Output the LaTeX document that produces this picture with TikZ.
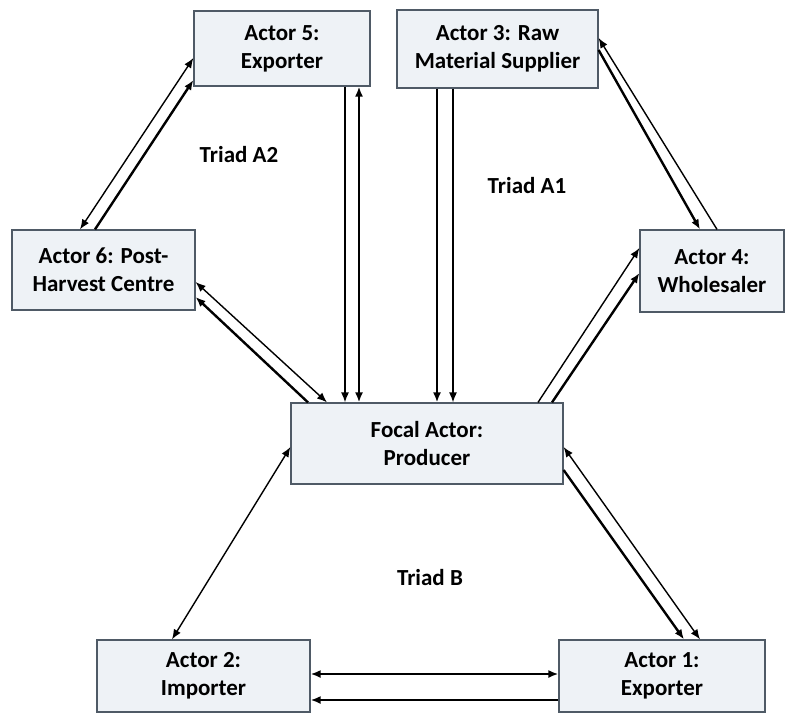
\documentclass[tikz,border=0pt]{standalone}
\usepackage{fontspec}
\setmainfont{Carlito}
\usepackage{xcolor}
\definecolor{actorFill}{HTML}{EEF2F6}
\definecolor{actorLine}{HTML}{4F5A66}
\usetikzlibrary{arrows.meta}

\begin{document}
\begin{tikzpicture}[x=0.5pt, y=-0.5pt,
  every node/.style={font=\bfseries\fontsize{11.5}{14}\selectfont, align=center},
  actor/.style={draw=actorLine, fill=actorFill, line width=0.6pt, inner sep=0pt},
  link/.style={line width=0.7pt},
  heavy/.style={line width=1.2pt},
  toarrow/.style={-{Latex[length=5pt,width=4pt]}},
  botharrow/.style={{Latex[length=5pt,width=4pt]}-{Latex[length=5pt,width=4pt]}}]
  \useasboundingbox (0,0) rectangle (802,712);
  % Actors
  \node[actor, minimum width=88pt, minimum height=37.5pt] (a5) at (282,48.5) {Actor 5:\\Exporter};
  \node[actor, minimum width=100.5pt, minimum height=39pt] (a3) at (497.5,49) {Actor 3: Raw\\Material Supplier};
  \node[actor, minimum width=91.5pt, minimum height=40pt] (a6) at (103.5,270) {Actor 6: Post-\\Harvest Centre};
  \node[actor, minimum width=72pt, minimum height=41pt] (a4) at (712,271) {Actor 4:\\Wholesaler};
  \node[actor, minimum width=136pt, minimum height=40.5pt] (f) at (427,443.5) {Focal Actor:\\Producer};
  \node[actor, minimum width=106.5pt, minimum height=36pt] (a2) at (203.5,676) {Actor 2:\\Importer};
  \node[actor, minimum width=103pt, minimum height=36pt] (a1) at (662,676) {Actor 1:\\Exporter};
  % Triads
  \node (ta2) at (239,155) {Triad A2};
  \node (ta1) at (527,186) {Triad A1};
  \node (tb) at (430,578) {Triad B};
  % Links to the focal actor
  \draw[link, toarrow] ([xshift=31.5pt]a5.south) -- ([xshift=-41pt]f.north);
  \draw[heavy, botharrow] ([xshift=38.5pt]a5.south) -- ([xshift=-34pt]f.north);
  \draw[heavy, toarrow] ([xshift=-30.25pt]a3.south) -- ([xshift=5pt]f.north);
  \draw[link, toarrow] ([xshift=-22.25pt]a3.south) -- ([xshift=13pt]f.north);
  \draw[link, botharrow] ([yshift=-6pt]a6.east) -- ([xshift=-50pt]f.north);
  \draw[heavy, toarrow] ([xshift=-59.5pt]f.north) -- ([yshift=-13.5pt]a6.east);
  \draw[link, toarrow] ([xshift=55.5pt]f.north) -- ([yshift=11.5pt]a4.west);
  \draw[heavy, toarrow] ([xshift=62.5pt]f.north) -- ([yshift=-1pt]a4.west);
  \draw[link, botharrow] ([yshift=-1.75pt]f.east) -- ([xshift=19pt]a1.north);
  \draw[heavy, toarrow] ([yshift=-13.25pt]f.east) -- ([xshift=11pt]a1.north);
  \draw[link, botharrow] ([yshift=-1.75pt]f.west) -- ([xshift=-15.75pt]a2.north);
  % Links between the other actors
  \draw[link, botharrow] ([yshift=-4.75pt]a5.west) -- ([xshift=-11.75pt]a6.north);
  \draw[heavy, toarrow] ([xshift=-4.25pt]a6.north) -- ([yshift=-15.75pt]a5.west);
  \draw[link, toarrow] ([xshift=2.5pt]a4.north) -- ([yshift=5.5pt]a3.east);
  \draw[heavy, toarrow] ([yshift=-0.5pt]a3.east) -- ([xshift=-6pt]a4.north);
  \draw[heavy, botharrow] ([yshift=1pt]a2.east) -- ([yshift=1pt]a1.west);
  \draw[heavy, toarrow] ([yshift=-12pt]a1.west) -- ([yshift=-12pt]a2.east);
\end{tikzpicture}
\end{document}
